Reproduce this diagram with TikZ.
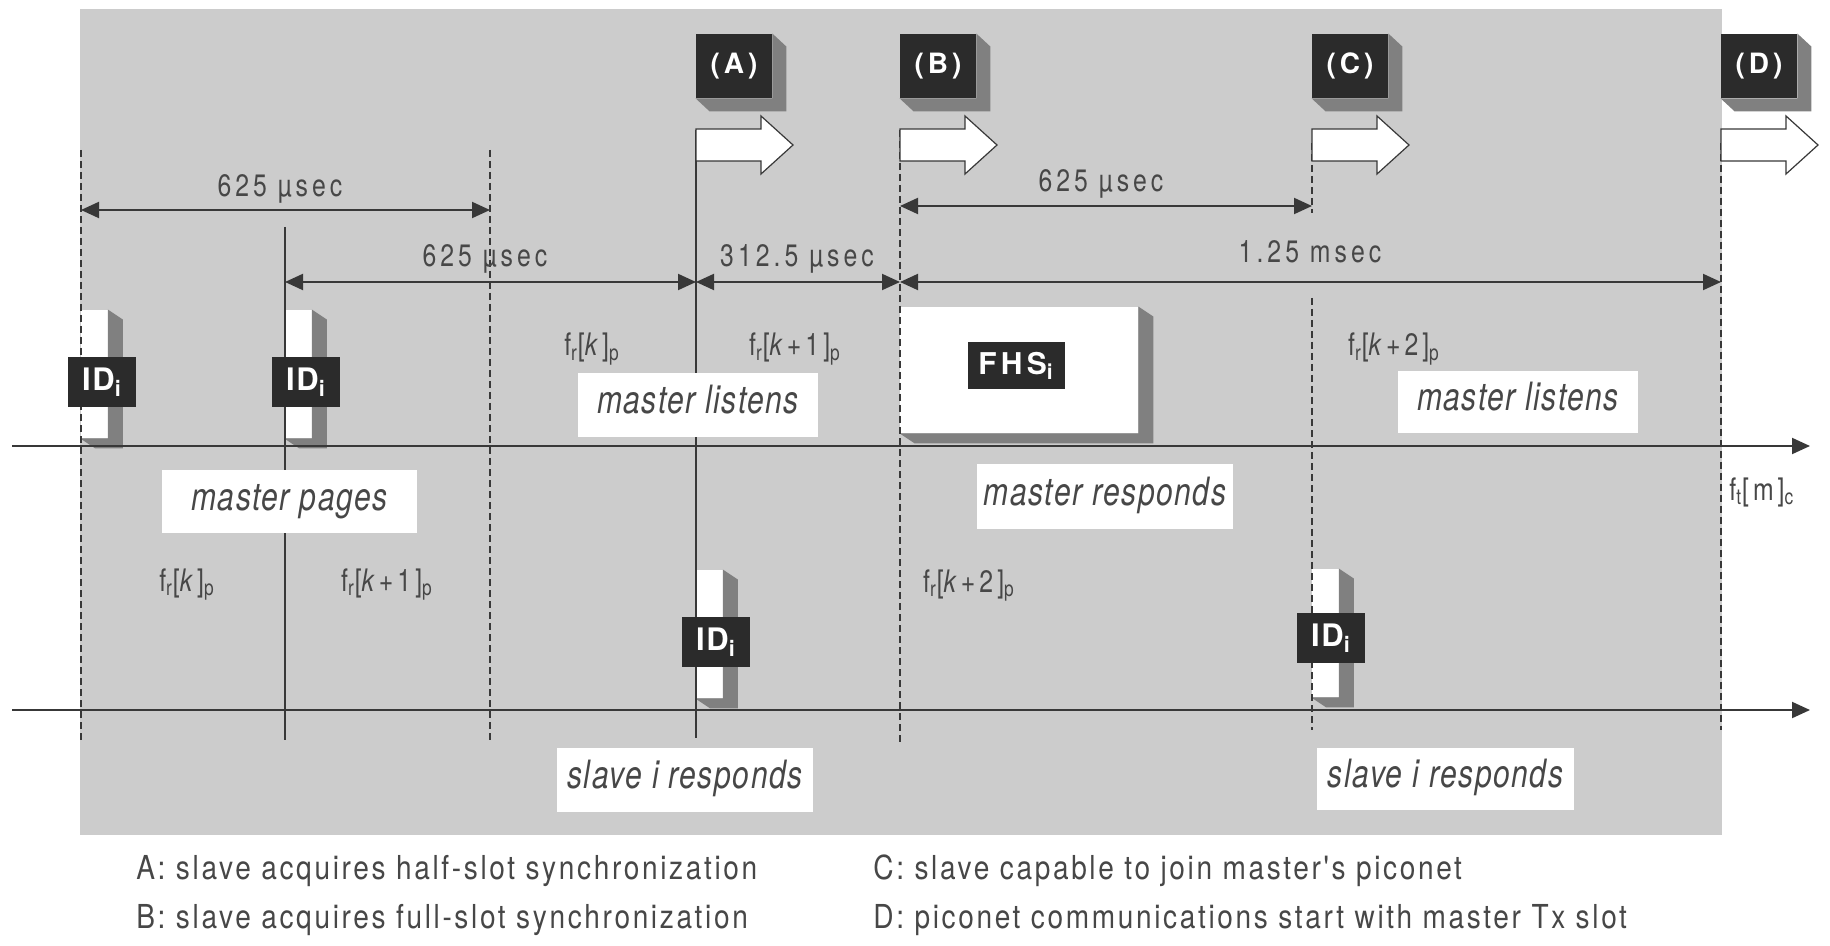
\documentclass[tikz,border=0pt]{standalone}
\usepackage{fontspec}
\setmainfont{TeX Gyre Heros}
\newfontfamily\numfont{TeX Gyre Heros}[FakeStretch=0.8,LetterSpace=13]
\newfontfamily\labfont{TeX Gyre Heros}[FakeStretch=0.77,LetterSpace=4]
\newfontfamily\legfont{TeX Gyre Heros}[FakeStretch=0.85,LetterSpace=8]
\newfontfamily\bxfont{TeX Gyre Heros}[LetterSpace=14]
\newfontfamily\idfont{TeX Gyre Heros}[LetterSpace=5]
\usetikzlibrary{arrows.meta,calc}
\definecolor{ink}{gray}{0.22}
\definecolor{txt}{gray}{0.28}
\definecolor{bgray}{gray}{0.80}
\definecolor{boxdark}{gray}{0.17}
\definecolor{shad}{gray}{0.50}
\newcommand\myextrude[3]{\fill[#3] (#1.north east) -- ($(#1.north east)+(#2)$) -- ($(#1.south east)+(#2)$) -- ($(#1.south west)+(#2)$) -- (#1.south west) -- (#1.south east) -- cycle;}
\begin{document}
\begin{tikzpicture}[x=0.5pt,y=-0.5pt,
  wlabel/.style={fill=white, inner sep=0pt, text height=12.5pt, text depth=4pt,
    font=\labfont\itshape\fontsize{19.5}{21}\selectfont, text=txt},
  darkbox/.style={fill=boxdark, text=white, inner sep=0pt, minimum width=38pt,
    minimum height=32pt, font=\bxfont\bfseries\fontsize{14}{15}\selectfont},
  idbox/.style={fill=boxdark, text=white, inner sep=0pt, minimum width=34pt,
    minimum height=25pt, font=\idfont\bfseries\fontsize{15.5}{16}\selectfont},
  fhsbox/.style={fill=boxdark, text=white, inner sep=0pt, minimum width=48.5pt,
    minimum height=23.5pt, font=\bxfont\bfseries\fontsize{15}{16}\selectfont},
  wbar/.style={fill=white, inner sep=0pt, minimum width=13.5pt, minimum height=64pt},
  numlab/.style={font=\numfont\fontsize{15.5}{17}\selectfont, text=txt, inner sep=0pt},
  leg/.style={font=\legfont\fontsize{16.5}{18}\selectfont, text=txt, inner sep=0pt, anchor=base west},
  vsolid/.style={draw=ink, line width=0.75pt},
  vdash/.style={draw=ink, line width=0.75pt, dash pattern=on 3.5pt off 2pt},
  dimarrow/.style={draw=ink, line width=1pt, {Triangle[length=9pt,width=8pt]}-{Triangle[length=9pt,width=8pt]}},
  axisline/.style={draw=ink, line width=1pt, -{Triangle[length=9pt,width=8pt]}},
  blockarr/.style={fill=white, draw=ink, line width=0.6pt, line join=miter}
]
\useasboundingbox (0,0) rectangle (1830,946);
\fill[bgray] (80,9) rectangle (1722,835);

% white packet bars with their shadows
\node[wbar] (w1) at (94,374) {};
\myextrude{w1}{15,10}{shad}
\node[wbar] (w2) at (298,374) {};
\myextrude{w2}{15,10}{shad}
\node[wbar] (w3) at (709,634) {};
\myextrude{w3}{15,10}{shad}
\node[wbar] (w4) at (1325,633) {};
\myextrude{w4}{15,10}{shad}
\node[fill=white, inner sep=0pt, minimum width=119pt, minimum height=63pt] (fhsbg) at (1019,370) {};
\myextrude{fhsbg}{15,10}{shad}

% slot boundary lines
\coordinate (L1t) at (81,150);   \coordinate (L1b) at (81,740);
\coordinate (L2t) at (285,227);  \coordinate (L2b) at (285,740);
\coordinate (L3t) at (490,150);  \coordinate (L3b) at (490,740);
\coordinate (L4t) at (696,130);  \coordinate (L4b) at (696,738);
\coordinate (L5t) at (900,130);  \coordinate (L5b) at (900,743);
\coordinate (L6t) at (1312,143); \coordinate (L6m) at (1312,213);
\coordinate (L6n) at (1312,298); \coordinate (L6b) at (1312,730);
\coordinate (L7t) at (1721,143); \coordinate (L7b) at (1721,730);
\draw[vdash]  (L1t) -- (L1b);
\draw[vsolid] (L2t) -- (L2b);
\draw[vdash]  (L3t) -- (L3b);
\draw[vsolid] (L4t) -- (L4b);
\draw[vdash]  (L5t) -- (L5b);
\draw[vdash]  (L6t) -- (L6m);
\draw[vdash]  (L6n) -- (L6b);
\draw[vdash]  (L7t) -- (L7b);

% time axes
\coordinate (m0) at (12,446); \coordinate (m1) at (1810,446);
\coordinate (s0) at (12,710); \coordinate (s1) at (1810,710);
\draw[axisline] (m0) -- (m1);
\draw[axisline] (s0) -- (s1);

% dimension arrows
\coordinate (h1) at (0,210); \coordinate (h2) at (0,282); \coordinate (h4) at (0,206);
\draw[dimarrow] (L1t |- h1) -- (L3t |- h1);
\draw[dimarrow] (L2t |- h2) -- (L4t |- h2);
\draw[dimarrow] (L4t |- h2) -- (L5t |- h2);
\draw[dimarrow] (L5t |- h2) -- (L7t |- h2);
\draw[dimarrow] (L5t |- h4) -- (L6t |- h4);

% block arrows
\draw[blockarr] (696,129) -- ++(65,0) -- ++(0,-13) -- ++(32,29) -- ++(-32,29) -- ++(0,-13) -- ++(-65,0) -- cycle;
\draw[blockarr] (900,129) -- ++(65,0) -- ++(0,-13) -- ++(32,29) -- ++(-32,29) -- ++(0,-13) -- ++(-65,0) -- cycle;
\draw[blockarr] (1312,129) -- ++(65,0) -- ++(0,-13) -- ++(32,29) -- ++(-32,29) -- ++(0,-13) -- ++(-65,0) -- cycle;
\draw[blockarr] (1721,129) -- ++(65,0) -- ++(0,-13) -- ++(32,29) -- ++(-32,29) -- ++(0,-13) -- ++(-65,0) -- cycle;

% event boxes
\node[darkbox] (bA) at (734,66) {(A)};
\myextrude{bA}{14,13}{shad}
\node[darkbox] (bB) at (938,66) {(B)};
\myextrude{bB}{14,13}{shad}
\node[darkbox] (bC) at (1350,66) {(C)};
\myextrude{bC}{14,13}{shad}
\node[darkbox] (bD) at (1759,66) {(D)};
\myextrude{bD}{14,13}{shad}

% packet labels
\node[idbox] (id1) at (102,382) {ID\textsubscript{i}};
\node[idbox] (id2) at (306,382) {ID\textsubscript{i}};
\node[idbox] (id3) at (716,642) {ID\textsubscript{i}};
\node[idbox] (id4) at (1331,638) {ID\textsubscript{i}};
\node[fhsbox] (fhs) at (1016,366) {FHS\textsubscript{i}};

% white state labels
\node[wlabel, minimum width=127.5pt, minimum height=31.5pt] (mpages) at (289.5,501.5) {master pages};
\node[wlabel, minimum width=120pt, minimum height=32pt] (mlist1) at (698,405) {master listens};
\node[wlabel, minimum width=120pt, minimum height=31pt] (mlist2) at (1518,402) {master listens};
\node[wlabel, minimum width=128pt, minimum height=32.5pt] (mresp) at (1105,496.5) {master responds};
\node[wlabel, minimum width=128pt, minimum height=32pt] (sresp1) at (685,780) {slave i responds};
\node[wlabel, minimum width=128.5pt, minimum height=31pt] (sresp2) at (1445.5,779) {slave i responds};

% durations
\node[numlab, anchor=base] (t1) at (280,197) {625 µsec};
\node[numlab, anchor=base] (t2) at (485,267) {625 µsec};
\node[numlab, anchor=base] (t3) at (797,267) {312.5 µsec};
\node[numlab, anchor=base] (t4) at (1310,263) {1.25 msec};
\node[numlab, anchor=base] (t5) at (1101,192) {625 µsec};

% frequencies
\node[numlab, anchor=base] (f1) at (592,356) {f\textsubscript{r}[\textit{k}]\textsubscript{p}};
\node[numlab, anchor=base] (f2) at (795,356) {f\textsubscript{r}[\textit{k}+1]\textsubscript{p}};
\node[numlab, anchor=base] (f3) at (1394,356) {f\textsubscript{r}[\textit{k}+2]\textsubscript{p}};
\node[numlab, anchor=base] (f4) at (187,591) {f\textsubscript{r}[\textit{k}]\textsubscript{p}};
\node[numlab, anchor=base] (f5) at (387,591) {f\textsubscript{r}[\textit{k}+1]\textsubscript{p}};
\node[numlab, anchor=base] (f6) at (969,592) {f\textsubscript{r}[\textit{k}+2]\textsubscript{p}};
\node[numlab, anchor=base west] (f7) at (1729,500) {f\textsubscript{t}[m]\textsubscript{c}};

% legend
\node[leg] (legA) at (136,879) {A: slave acquires half-slot synchronization};
\node[leg] (legB) at (136,928) {B: slave acquires full-slot synchronization};
\node[leg] (legC) at (873,879) {C: slave capable to join master's piconet};
\node[leg] (legD) at (873,928) {D: piconet communications start with master Tx slot};
\end{tikzpicture}
\end{document}
